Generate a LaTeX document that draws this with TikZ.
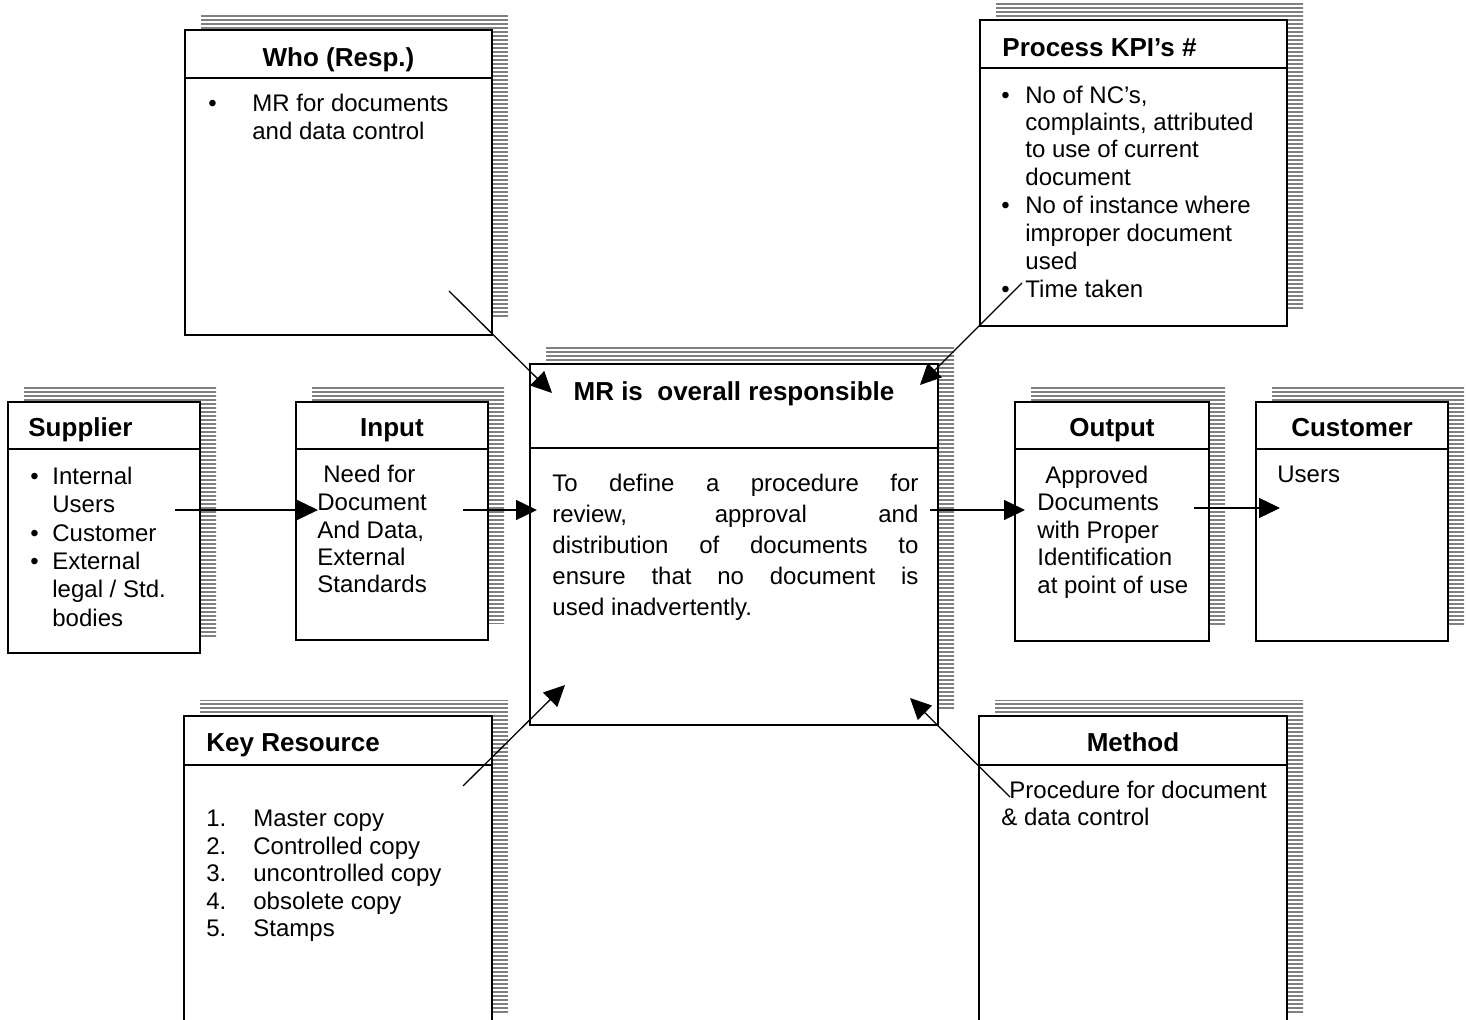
\documentclass[tikz,border=0pt]{standalone}
\usepackage{fontspec}
\setmainfont{Liberation Sans}
\usetikzlibrary{arrows.meta,patterns.meta}

\tikzset{
  boxline/.style={line width=1pt},
  stripes/.style={pattern={Lines[angle=0,distance=2pt,line width=1.3pt]},pattern color=gray},
  flow/.style={line width=0.65pt,-{Triangle[length=10.5pt,width=10pt]}},
  hdr/.style={font=\fontsize{13}{15.6}\selectfont\bfseries,inner sep=0pt},
  txt/.style={font=\fontsize{12}{13.8}\selectfont,inner sep=0pt,anchor=base west},
}

\begin{document}
\begin{tikzpicture}[x=0.5pt,y=-0.5pt]
\useasboundingbox (0,0) rectangle (1466,1020);
% boxes: name/left/top/right/bottom/header rule
\foreach \n/\xa/\ya/\xb/\yb/\ys in {who/185/30/492/335/78, kpi/980/20/1287/326/68,
  mr/530/364/938/725/448, sup/8/402/200/653/449, inp/296/402/488/640/449,
  out/1015/402/1209/641/449, cus/1256/402/1448/641/449,
  key/184/716/492/1030/765, met/979/716/1287/1030/765}{
  \fill[stripes] (\xa+16,\ya-16) rectangle (\xb+16,\yb-16);
  \draw[boxline,fill=white] (\xa,\ya) coordinate (\n-nw) rectangle (\xb,\yb) coordinate (\n-se);
  \draw[boxline] (\xa,\ys) -- (\xb,\ys);
}
% headers
\foreach \n/\hx/\hy/\a/\lbl in {who/338.5/67/base/{Who (Resp.)}, kpi/1002/57/base west/{Process KPI’s \#},
  mr/734/401/base/{MR is~ overall responsible}, sup/28/437/base west/Supplier, inp/392/437/base/Input,
  out/1112/437/base/Output, cus/1352/437/base/Customer, key/206/751/base west/{Key Resource},
  met/1133/751/base/Method}
  \node[hdr,anchor=\a] (\n-head) at (\hx,\hy) {\lbl};
% box texts
\foreach \n/\tx/\ty/\lbl in {
  who-b1/208/112/•, who-l1/252/112/{MR for documents}, who-l2/252/140/{and data control},
  kpi-b1/1001/104/•, kpi-l1/1025/104/{No of NC’s,}, kpi-l2/1025/130.5/{complaints, attributed},
  kpi-l3/1025/158/{to use of current}, kpi-l4/1025/186/document,
  kpi-b2/1001/214/•, kpi-l5/1025/214/{No of instance where}, kpi-l6/1025/242/{improper document},
  kpi-l7/1025/270/used, kpi-b3/1001/298/•, kpi-l8/1025/298/{Time taken},
  sup-b1/30/485/•, sup-l1/52/485/Internal, sup-l2/52/513/Users, sup-b2/30/542/•, sup-l3/52/542/Customer,
  sup-b3/30/570/•, sup-l4/52/570/External, sup-l5/52/598/{legal / Std.}, sup-l6/52/626/bodies,
  inp-l1/323/483/{Need for}, inp-l2/317/511/Document, inp-l3/317/539/{And Data,},
  inp-l4/317/566/External, inp-l5/317/593/Standards,
  mr-l1/552/492/{\makebox[183pt][s]{To define a procedure for}},
  mr-l2/552/523/{\makebox[183pt][s]{review, approval and}},
  mr-l3/552/554/{\makebox[183pt][s]{distribution of documents to}},
  mr-l4/552/585/{\makebox[183pt][s]{ensure that no document is}},
  mr-l5/552/616/{used inadvertently.},
  out-l1/1045/484/Approved, out-l2/1037/511/Documents, out-l3/1037/539/{with Proper},
  out-l4/1037/566/Identification, out-l5/1037/594/{at point of use},
  cus-l1/1277/483/Users,
  key-n1/206/826/1., key-l1/253/826/{Master copy}, key-n2/206/854/2., key-l2/253/854/{Controlled copy},
  key-n3/206/881/3., key-l3/253/881/{uncontrolled copy}, key-n4/206/909/4., key-l4/253/909/{obsolete copy},
  key-n5/206/936/5., key-l5/253/936/Stamps,
  met-l1/1009/798/{Procedure for document}, met-l2/1001/825/{\& data control}}
  \node[txt] (\n) at (\tx,\ty) {\lbl};
% connectors
\foreach \n/\xa/\ya/\xb/\yb in {whomr/449/291/552/393, kpimr/1022/283/920/385,
  supinp/175/510/318/510, inpmr/463/510/537/510, mrout/930/510/1025/510,
  outcus/1194/508/1280/508, keymr/463/786/565/685, metmr/1010/797/910/698}{
  \coordinate (\n-from) at (\xa,\ya);
  \coordinate (\n-to) at (\xb,\yb);
  \draw[flow] (\n-from) -- (\n-to);
}
\end{tikzpicture}
\end{document}
